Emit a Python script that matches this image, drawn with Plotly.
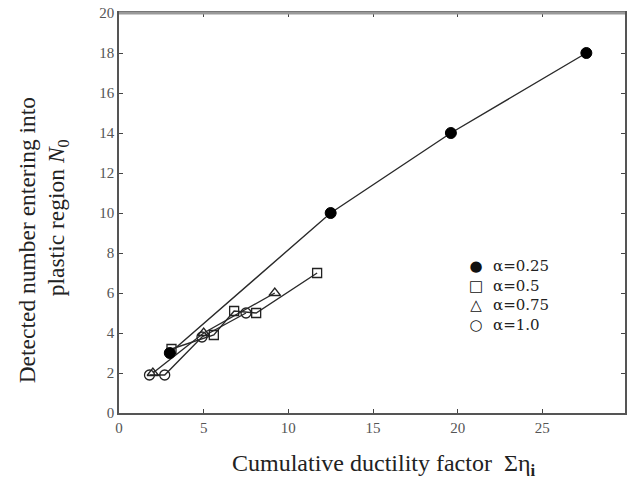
import plotly.graph_objects as go

# Cumulative ductility factor vs. detected number of plastic excursions
x_a025 = [3.0, 12.5, 19.6, 27.6]
y_a025 = [3.0, 10.0, 14.0, 18.0]

x_a05 = [3.1, 5.6, 6.8, 8.1, 11.7]
y_a05 = [3.2, 3.9, 5.1, 5.0, 7.0]

x_a075 = [2.0, 5.0, 9.2]
y_a075 = [2.0, 4.0, 6.0]

x_a10 = [1.8, 2.7, 4.9, 7.5]
y_a10 = [1.9, 1.9, 3.8, 5.0]

series_names = ["α=0.25", "α=0.5", "α=0.75", "α=1.0"]
legend_glyphs = ["●", "□", "△", "○"]
x_ticks = [0, 5, 10, 15, 20, 25, 30]
y_ticks = [0, 2, 4, 6, 8, 10, 12, 14, 16, 18, 20]

SERIF = "Liberation Serif, Times New Roman, serif"
LINE_COL = "#2a2a2a"

styles = [
    dict(symbol="circle", size=11, color="black", line=dict(color="black", width=1)),
    dict(symbol="square-open", size=9, color="#222", line=dict(width=1.3)),
    dict(symbol="triangle-up-open", size=10, color="#222", line=dict(width=1.3)),
    dict(symbol="circle-open", size=10, color="#222", line=dict(width=1.3)),
]
data = [(x_a025, y_a025), (x_a05, y_a05), (x_a075, y_a075), (x_a10, y_a10)]

fig = go.Figure()
# later series first so the filled circles sit on top
for (xs, ys), st, name in reversed(list(zip(data, styles, series_names))):
    fig.add_trace(go.Scatter(
        x=xs, y=ys, mode="lines+markers", name=name, showlegend=False,
        line=dict(color=LINE_COL, width=1.4),
        marker=dict(**st),
    ))

W, H = 627, 488
L, R, T, B = 119, 0, 13, 75
pw, ph = W - L - R, H - T - B


def px_to_paper_x(px):
    return (px - L) / pw


def px_to_paper_y(py):
    return (H - B - py) / ph


# key box in the lower right: glyph column + label column
LEG_FONT = 15
leg_y = px_to_paper_y(295)
key_annotations = [
    dict(text="<br>".join(legend_glyphs), xref="paper", yref="paper",
         x=px_to_paper_x(477), y=leg_y, xanchor="center", yanchor="middle",
         align="center", showarrow=False,
         font=dict(family="DejaVu Sans", size=LEG_FONT, color="#111")),
    dict(text="<br>".join(series_names), xref="paper", yref="paper",
         x=px_to_paper_x(492), y=leg_y, xanchor="left", yanchor="middle",
         align="left", showarrow=False,
         font=dict(family="DejaVu Serif", size=LEG_FONT, color="#222")),
]

fig.update_layout(
    width=W, height=H,
    margin=dict(l=L, r=R, t=T, b=B),
    paper_bgcolor="white", plot_bgcolor="white",
    font=dict(family=SERIF, color="#333"),
    showlegend=False,
    xaxis=dict(
        range=[0, pw / 17.0], tickvals=x_ticks, ticks="inside", ticklen=4,
        tickcolor="#444", showline=True, linecolor="#555", linewidth=1.5,
        mirror="ticks", showgrid=False, zeroline=False,
        tickfont=dict(family=SERIF, size=15, color="#555"),
    ),
    yaxis=dict(
        range=[0, 20], tickvals=y_ticks, ticks="inside", ticklen=4,
        tickcolor="#444", showline=True, linecolor="#555", linewidth=1.5,
        mirror="ticks", showgrid=False, zeroline=False,
        tickfont=dict(family=SERIF, size=15, color="#555"),
    ),
    shapes=[
        dict(type="line", xref="paper", yref="paper", x0=0, x1=1, y0=1, y1=1,
             line=dict(color="#9a9a9a", width=3)),
    ],
    annotations=[
        dict(text="Cumulative ductility factor  Ση<sub><b>i</b></sub>",
             xref="paper", yref="paper", x=px_to_paper_x(385), y=px_to_paper_y(465),
             xanchor="center", yanchor="middle", showarrow=False,
             font=dict(family=SERIF, size=24, color="#222")),
        dict(text="Detected number entering into",
             xref="paper", yref="paper", x=px_to_paper_x(27), y=px_to_paper_y(240),
             xanchor="center", yanchor="middle", showarrow=False, textangle=-90,
             font=dict(family=SERIF, size=23.5, color="#222")),
        dict(text="plastic region <i>N</i><sub>0</sub>",
             xref="paper", yref="paper", x=px_to_paper_x(58), y=px_to_paper_y(218),
             xanchor="center", yanchor="middle", showarrow=False, textangle=-90,
             font=dict(family=SERIF, size=23.5, color="#222")),
    ] + key_annotations,
)

fig.write_html("out.html")
